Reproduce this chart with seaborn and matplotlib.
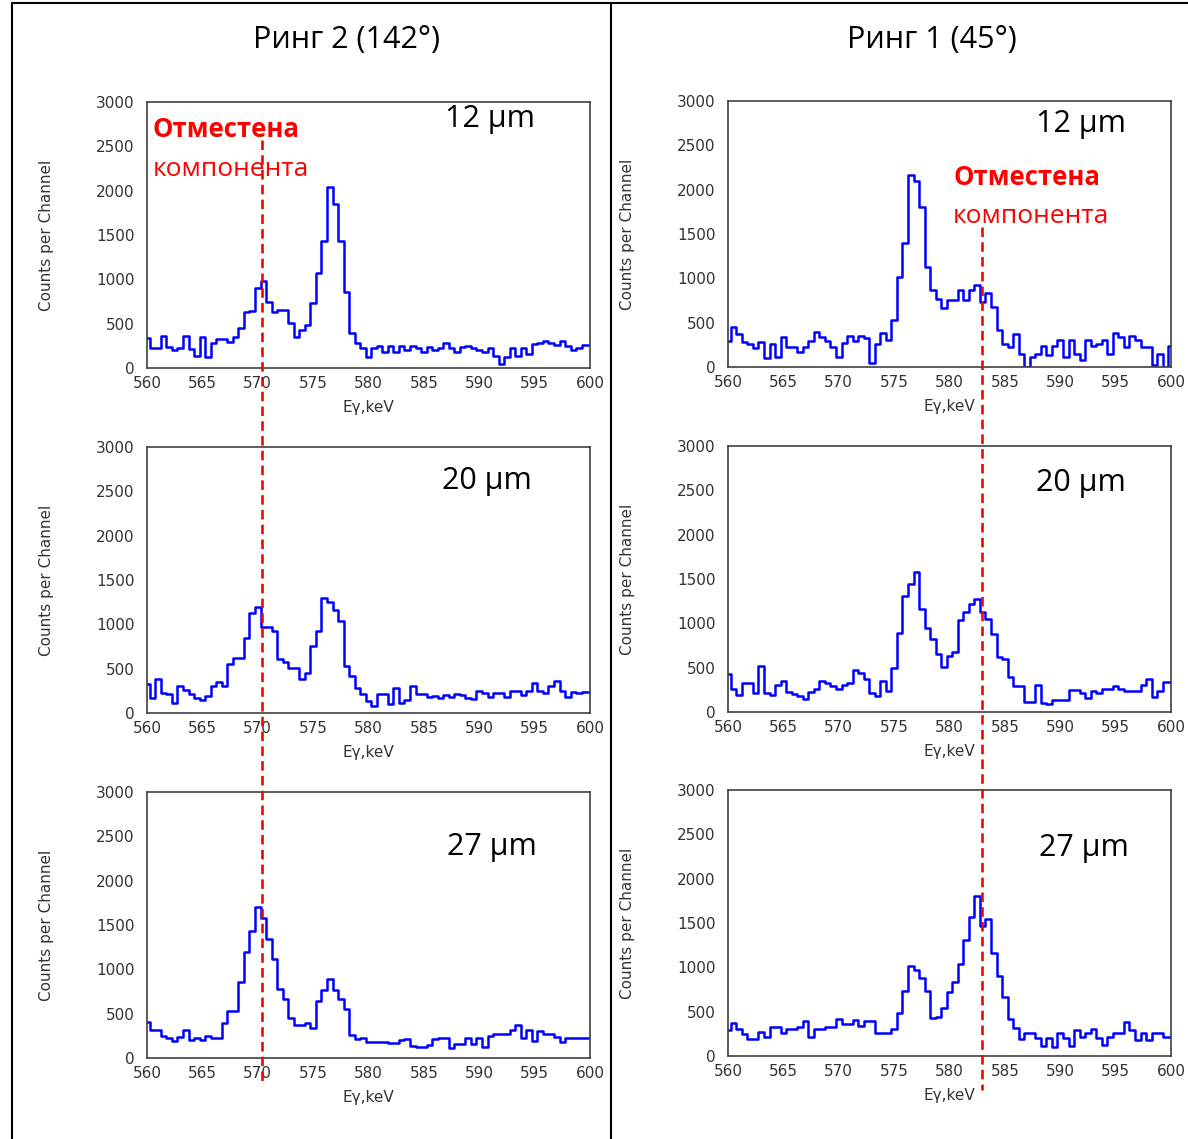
import numpy as np
import pandas as pd
import matplotlib.pyplot as plt
import seaborn as sns
from matplotlib.lines import Line2D

# spectra, 0.5 keV channels starting at 559.75 keV
BIN_START = 559.75
BIN_WIDTH = 0.5

ring2_12 = [340, 230, 230, 360, 240, 200, 220, 360, 210, 130, 346, 120, 278, 323, 323, 297, 346, 447, 635, 640,
            906, 981, 748, 635, 654, 654, 504, 346, 429, 485, 737, 1068, 1436, 2038, 1850, 1436, 854, 391, 278, 222,
            128, 222, 248, 184, 250, 180, 250, 200, 250, 230, 180, 240, 200, 230, 280, 230, 180, 240, 250, 230,
            200, 180, 230, 130, 50, 120, 220, 130, 230, 160, 270, 280, 300, 280, 260, 300, 250, 200, 230, 260, 260]
ring2_20 = [324, 166, 380, 230, 210, 117, 305, 265, 210, 170, 150, 190, 305, 350, 305, 550, 625, 625, 850, 1130,
            1195, 966, 966, 925, 607, 570, 513, 513, 381, 456, 758, 925, 1300, 1250, 1157, 1040, 530, 418, 287, 210,
            136, 80, 210, 210, 98, 287, 117, 150, 300, 210, 210, 180, 190, 170, 200, 180, 210, 200, 170, 160,
            250, 230, 180, 230, 220, 180, 250, 250, 200, 250, 340, 250, 230, 300, 360, 250, 180, 240, 230, 240, 240]
ring2_27 = [411, 313, 313, 250, 230, 192, 240, 313, 200, 230, 200, 250, 224, 224, 400, 535, 535, 855, 1200, 1435,
            1700, 1580, 1340, 1117, 776, 663, 456, 373, 373, 390, 336, 640, 770, 890, 770, 663, 550, 260, 210, 220,
            185, 178, 178, 178, 170, 170, 200, 210, 136, 125, 125, 150, 210, 230, 230, 117, 160, 160, 230, 160,
            230, 125, 250, 275, 275, 275, 313, 370, 230, 320, 190, 310, 275, 275, 240, 185, 230, 230, 230, 230, 230]
ring1_12 = [297, 447, 372, 286, 260, 210, 278, 98, 260, 117, 335, 222, 222, 173, 222, 297, 398, 340, 297, 222,
            117, 275, 350, 297, 350, 323, 41, 260, 380, 305, 530, 1015, 1400, 2170, 2100, 1800, 1130, 865, 770, 670,
            760, 760, 865, 756, 865, 925, 737, 837, 677, 417, 263, 230, 372, 147, 4, 117, 147, 237, 135, 237,
            305, 117, 305, 147, 75, 305, 237, 260, 305, 147, 380, 335, 230, 345, 305, 230, 222, 22, 147, 4, 237]
ring1_20 = [426, 256, 188, 324, 324, 218, 520, 218, 188, 301, 350, 230, 200, 180, 150, 230, 264, 350, 324, 294,
            264, 301, 332, 470, 445, 369, 218, 180, 350, 237, 494, 886, 1310, 1444, 1575, 1160, 942, 822, 652, 509,
            633, 682, 1036, 1130, 1217, 1274, 1130, 1048, 878, 625, 595, 396, 294, 294, 113, 113, 301, 105, 87, 135,
            135, 135, 245, 245, 218, 162, 237, 218, 264, 264, 294, 264, 237, 237, 237, 301, 377, 173, 237, 340, 340]
ring1_27 = [293, 368, 300, 248, 188, 188, 274, 218, 330, 330, 263, 300, 300, 330, 395, 210, 300, 300, 323, 323,
            414, 361, 361, 406, 338, 400, 400, 255, 255, 255, 300, 489, 733, 1019, 970, 876, 733, 425, 444, 538,
            726, 831, 1034, 1308, 1571, 1808, 1470, 1545, 1165, 902, 662, 414, 312, 188, 263, 263, 199, 113, 199, 105,
            255, 199, 113, 293, 218, 255, 300, 199, 124, 218, 255, 255, 388, 293, 180, 263, 180, 263, 263, 218, 218]

column_titles = ["Ринг 2 (142°)", "Ринг 1 (45°)"]
thickness_labels = ["12 μm", "20 μm", "27 μm"]
shift_energy = [570.36, 582.95]   # shifted component, keV
spectra = [[ring2_12, ring2_20, ring2_27], [ring1_12, ring1_20, ring1_27]]

sns.set_style("white")
plt.rcParams["font.family"] = ["DejaVu Sans"]
TXT = ["Open Sans", "DejaVu Sans"]

fig = plt.figure(figsize=(11.88, 11.39), dpi=100)

W, H = 1188, 1139
col_left = [147, 728]
row_top = [[102, 447, 792], [101, 446, 790]]
ax_w, ax_h = 443, 266

# label positions inside each axes (axes fraction)
lab_pos = [[(0.774, 0.936), (0.767, 0.872), (0.779, 0.792)],
           [(0.797, 0.914), (0.797, 0.860), (0.804, 0.782)]]

axes = [[None] * 3, [None] * 3]
for c in range(2):
    for r in range(3):
        left = col_left[c] / W
        bottom = 1 - (row_top[c][r] + ax_h) / H
        ax = fig.add_axes([left, bottom, ax_w / W, ax_h / H])
        counts = spectra[c][r]
        df = pd.DataFrame({
            "energy": BIN_START + BIN_WIDTH * (np.arange(len(counts)) + 0.5),
            "counts": counts,
        })
        sns.histplot(data=df, x="energy", weights="counts", binwidth=BIN_WIDTH,
                     binrange=(BIN_START, BIN_START + BIN_WIDTH * len(counts)),
                     element="step", fill=False, color="#0000ff", linewidth=1.8, ax=ax)
        ax.set_xlim(560, 600)
        ax.set_ylim(0, 3000)
        ax.set_xticks(np.arange(560, 601, 5))
        ax.set_yticks(np.arange(0, 3001, 500))
        ax.tick_params(length=0, labelsize=11, labelcolor="#333333")
        ax.tick_params(axis="x", pad=6)
        ax.tick_params(axis="y", pad=9)
        for s in ax.spines.values():
            s.set_color("#404040")
            s.set_linewidth(1.2)
            s.set_visible(True)
        ax.set_xlabel("Eγ,keV", fontsize=11, color="#333333")
        ax.xaxis.set_label_coords(0.5, -0.15)
        ax.xaxis.label.set_va("center")
        ax.set_ylabel("Counts per Channel", fontsize=11, color="#333333")
        ax.yaxis.set_label_coords(-0.226, 0.5)
        ax.yaxis.label.set_va("center")
        lx, ly = lab_pos[c][r]
        ax.text(lx, ly, thickness_labels[r], transform=ax.transAxes, ha="center", va="center",
                fontsize=22, family=TXT, color="black")
        axes[c][r] = ax

# column titles
fig.text(347 / W, 1 - 40 / H, column_titles[0], ha="center", va="center", fontsize=22,
         family=TXT, color="black")
fig.text(932 / W, 1 - 40 / H, column_titles[1], ha="center", va="center", fontsize=22,
         family=TXT, color="black")

# annotation of shifted component
ann = [(0.0135, 0.895, 0.748), (0.508, 0.711, 0.564)]
for c in range(2):
    x0, y1, y2 = ann[c]
    ax = axes[c][0]
    ax.text(x0, y1, "Отместена", transform=ax.transAxes, ha="left", va="center",
            fontsize=18.5, fontweight="bold", color="#ff0000", family=TXT)
    ax.text(x0, y2, "компонента", transform=ax.transAxes, ha="left", va="center",
            fontsize=19, color="#ff0000", family=TXT)

# dashed lines through all three panels (from the top panel down below the bottom one)
line_ends = [(2570, -290), (1580, -384)]
to_fig = fig.transFigure.inverted()
for c in range(2):
    ytop, ybot = line_ends[c]
    p_top = to_fig.transform(axes[c][0].transData.transform((shift_energy[c], ytop)))
    p_bot = to_fig.transform(axes[c][2].transData.transform((shift_energy[c], ybot)))
    fig.add_artist(Line2D([p_top[0], p_bot[0]], [p_top[1], p_bot[1]], color="#ff0000",
                          lw=1.9, linestyle=(0, (3.6, 2.0)), zorder=10))

# frame lines
fig.add_artist(Line2D([12 / W, 12 / W], [0, 1 - 3 / H], color="black", lw=1.5))
fig.add_artist(Line2D([611 / W, 611 / W], [0, 1 - 3 / H], color="black", lw=1.5))
fig.add_artist(Line2D([12 / W, 1], [1 - 3 / H, 1 - 3 / H], color="black", lw=1.5))

fig.savefig("out.png", dpi=100)
